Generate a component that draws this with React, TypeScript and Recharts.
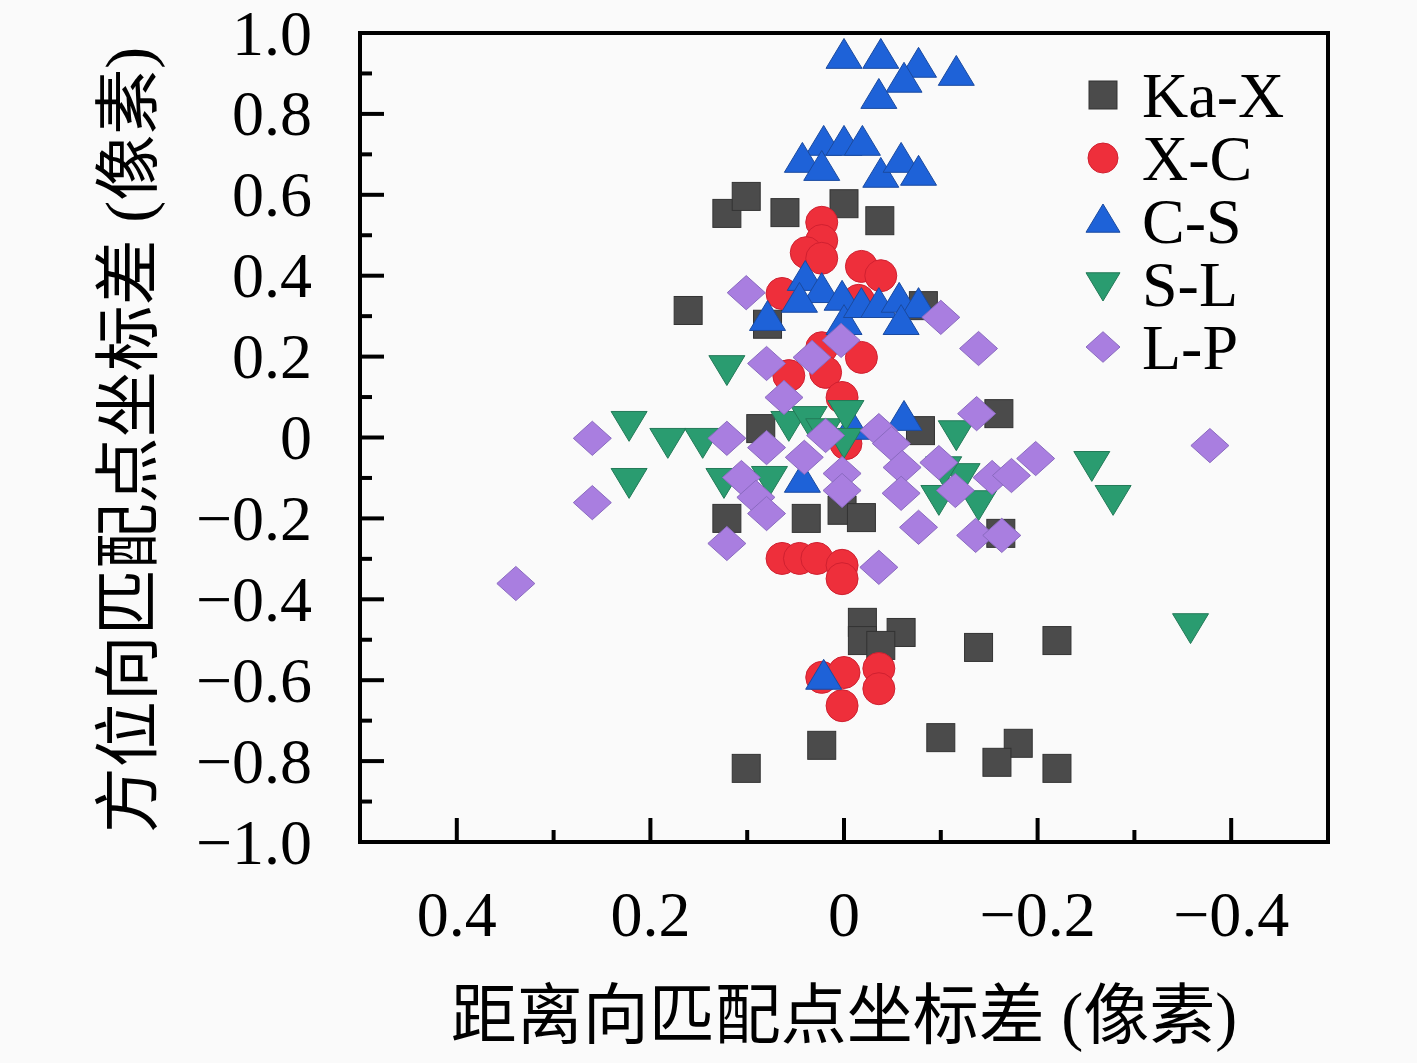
import React from 'react';
import {
  Legend,
  ReferenceArea,
  Scatter,
  ScatterChart,
  XAxis,
  YAxis,
} from 'recharts';

// [range diff, azimuth diff] in pixels
const kaX = [
  [0.121, 0.554], [0.101, 0.596], [0.061, 0.556], [0.0, 0.578], [-0.037, 0.536],
  [0.161, 0.314], [0.079, 0.28], [-0.082, 0.326],
  [0.086, 0.022], [-0.079, 0.017], [-0.16, 0.059],
  [0.121, -0.2], [0.039, -0.2], [0.002, -0.18], [-0.018, -0.198], [-0.162, -0.237],
  [-0.019, -0.457], [-0.019, -0.502], [-0.059, -0.482], [-0.038, -0.514],
  [-0.139, -0.519], [-0.22, -0.502],
  [0.023, -0.761], [0.101, -0.818], [-0.1, -0.742], [-0.18, -0.756],
  [-0.158, -0.803], [-0.22, -0.818],
];

const xC = [
  [0.023, 0.532], [0.023, 0.487], [0.039, 0.457], [0.023, 0.443], [-0.018, 0.423],
  [-0.038, 0.4], [0.064, 0.356], [-0.015, 0.339], [-0.018, 0.198], [0.023, 0.222],
  [0.019, 0.161], [0.057, 0.153], [0.002, 0.099], [-0.002, -0.015],
  [0.064, -0.299], [0.046, -0.299], [0.028, -0.299], [0.002, -0.316], [0.002, -0.349],
  [0.023, -0.593], [0.0, -0.581], [0.002, -0.663], [-0.036, -0.571], [-0.036, -0.621],
];

const cS = [
  [0.0, 0.942], [-0.038, 0.942], [-0.077, 0.92], [-0.062, 0.883], [-0.116, 0.9], [-0.036, 0.843],
  [0.021, 0.727], [0.0, 0.727], [-0.019, 0.727], [0.043, 0.685], [0.023, 0.665],
  [-0.038, 0.648], [-0.059, 0.685], [-0.077, 0.653],
  [0.079, 0.294], [0.04, 0.393], [0.023, 0.363], [0.046, 0.339], [0.002, 0.344],
  [0.0, 0.284], [-0.018, 0.326], [-0.036, 0.326], [-0.057, 0.339], [-0.077, 0.326],
  [-0.059, 0.284],
  [-0.062, 0.047], [-0.008, 0.025], [0.043, -0.106],
  [0.021, -0.593],
];

const sL = [
  [0.222, 0.035], [0.182, -0.007], [0.146, -0.007], [0.121, 0.173], [0.222, -0.106],
  [0.124, -0.106], [0.077, -0.101], [0.057, 0.035], [0.036, 0.047], [0.021, 0.017],
  [-0.002, 0.062], [0.0, -0.007], [-0.116, 0.012], [-0.098, -0.148], [-0.122, -0.094],
  [-0.103, -0.077], [-0.139, -0.161], [-0.256, -0.064], [-0.278, -0.148], [-0.358, -0.465],
];

const lP = [
  [0.26, -0.002], [0.26, -0.161], [0.339, -0.361], [0.101, 0.358], [-0.1, 0.297],
  [-0.139, 0.22], [0.08, 0.183], [0.033, 0.198], [0.003, 0.24], [0.062, 0.099],
  [-0.137, 0.059], [0.121, -0.002], [0.08, -0.025], [0.106, -0.099], [0.091, -0.148],
  [0.08, -0.188], [0.121, -0.262], [0.041, -0.049], [0.019, 0.005], [0.002, -0.089],
  [0.002, -0.131], [-0.036, -0.321], [-0.036, 0.017], [-0.049, -0.015], [-0.06, -0.074],
  [-0.059, -0.138], [-0.077, -0.222], [-0.115, -0.131], [-0.153, -0.099], [-0.173, -0.094],
  [-0.198, -0.052], [-0.136, -0.242], [-0.163, -0.242], [-0.378, -0.02], [-0.098, -0.062],
];

const xTicks = [0.5, 0.4, 0.3, 0.2, 0.1, 0, -0.1, -0.2, -0.3, -0.4, -0.5];
const yTicks = [
  -1, -0.9, -0.8, -0.7, -0.6, -0.5, -0.4, -0.3, -0.2, -0.1, 0,
  0.1, 0.2, 0.3, 0.4, 0.5, 0.6, 0.7, 0.8, 0.9, 1,
];
const xLabels = [0.4, 0.2, 0, -0.2, -0.4];

const SERIF = "'Liberation Serif', 'Noto Sans CJK SC', serif";

const fmt = (v: number) =>
  v === 0 ? '0' : (v < 0 ? '\u2212' : '') + Math.abs(v).toFixed(1);

const toPts = (arr: number[][]) => arr.map(([x, y]) => ({ x, y }));

const Square = ({ cx, cy, s = 14 }: any) => (
  <rect x={cx - s} y={cy - s} width={2 * s} height={2 * s} fill="#4b4b4b" stroke="#333" strokeWidth={1} />
);
const Dot = ({ cx, cy, s = 16 }: any) => (
  <circle cx={cx} cy={cy} r={s} fill="#ee2f3b" stroke="#d02030" strokeWidth={1} />
);
const TriUp = ({ cx, cy, s = 18 }: any) => (
  <polygon
    points={`${cx},${cy - s} ${cx - s},${cy + s * 0.66} ${cx + s},${cy + s * 0.66}`}
    fill="#1e62d8"
    stroke="#1a4aa0"
    strokeWidth={1}
  />
);
const TriDown = ({ cx, cy, s = 18 }: any) => (
  <polygon
    points={`${cx},${cy + s} ${cx - s},${cy - s * 0.66} ${cx + s},${cy - s * 0.66}`}
    fill="#2a9c70"
    stroke="#237a58"
    strokeWidth={1}
  />
);
const Diamond = ({ cx, cy, s = 19 }: any) => (
  <polygon
    points={`${cx},${cy - s * 0.9} ${cx + s},${cy} ${cx},${cy + s * 0.9} ${cx - s},${cy}`}
    fill="#a97ee0"
    stroke="#8a6ac0"
    strokeWidth={1}
  />
);

const series = [
  { name: 'Ka-X', data: kaX, Shape: Square },
  { name: 'X-C', data: xC, Shape: Dot },
  { name: 'C-S', data: cS, Shape: TriUp },
  { name: 'S-L', data: sL, Shape: TriDown },
  { name: 'L-P', data: lP, Shape: Diamond },
];

const XTick = ({ x, y, payload }: any) => {
  const v = payload.value;
  const major = xLabels.includes(v);
  if (Math.abs(v) === 0.5) return null;
  return (
    <g>
      <line x1={x} x2={x} y1={y} y2={y - (major ? 24 : 12)} stroke="#000" strokeWidth={4} />
      {major && (
        <text x={x} y={y + 72} textAnchor="middle" dominantBaseline="central" fontFamily={SERIF} fontSize={64} fill="#000">
          {fmt(v)}
        </text>
      )}
    </g>
  );
};

const YTick = ({ x, y, payload }: any) => {
  const v = payload.value;
  const major = Math.round(v * 10) % 2 === 0;
  return (
    <g>
      <line x1={x} x2={x + (major ? 24 : 12)} y1={y} y2={y} stroke="#000" strokeWidth={4} />
      {major && (
        <text x={x - 48} y={y} textAnchor="end" dominantBaseline="central" fontFamily={SERIF} fontSize={64} fill="#000">
          {fmt(v)}
        </text>
      )}
    </g>
  );
};

const LegendBox = () => (
  <svg width={320} height={360} style={{ overflow: 'visible' }}>
    {series.map(({ name, Shape }, i) => (
      <g key={name}>
        <Shape cx={33} cy={32 + i * 63} s={name === 'X-C' ? 15 : name === 'Ka-X' ? 14 : 17} />
        <text x={72} y={32 + i * 63} dominantBaseline="central" fontFamily={SERIF} fontSize={64} fill="#000">
          {name}
        </text>
      </g>
    ))}
  </svg>
);

export default function App() {
  return (
    <div style={{ position: 'absolute', left: 0, top: 0, width: 1417, height: 1063, background: '#fafafa' }}>
      <ScatterChart width={1417} height={1063} margin={{ top: 33, right: 89, bottom: 161, left: 300 }}>
        <XAxis
          type="number"
          dataKey="x"
          domain={[-0.5, 0.5]}
          reversed
          ticks={xTicks}
          interval={0}
          axisLine={false}
          tickLine={false}
          tickSize={0}
          tickMargin={0}
          height={60}
          tick={<XTick />}
          label={{
            position: 'bottom',
            content: () => (
              <text x={844} y={1015} textAnchor="middle" dominantBaseline="central" fontFamily={SERIF} fontSize={66} fill="#000">
                距离向匹配点坐标差 (像素)
              </text>
            ),
          }}
        />
        <YAxis
          type="number"
          dataKey="y"
          domain={[-1, 1]}
          ticks={yTicks}
          interval={0}
          axisLine={false}
          tickLine={false}
          tickSize={0}
          tickMargin={0}
          width={60}
          tick={<YTick />}
          label={{
            position: 'left',
            content: () => (
              <text
                x={128}
                y={440}
                transform="rotate(-90 128 440)"
                textAnchor="middle"
                dominantBaseline="central"
                fontFamily={SERIF}
                fontSize={66}
                fill="#000"
              >
                方位向匹配点坐标差 (像素)
              </text>
            ),
          }}
        />
        {series.map(({ name, data, Shape }) => (
          <Scatter
            key={name}
            name={name}
            data={toPts(data)}
            isAnimationActive={false}
            shape={(p: any) => <Shape cx={p.cx} cy={p.cy} />}
          />
        ))}
        <ReferenceArea
          x1={-0.5}
          x2={0.5}
          y1={-1}
          y2={1}
          fill="none"
          stroke="#000"
          strokeWidth={4}
          ifOverflow="visible"
        />
        <Legend
          layout="vertical"
          align="center"
          verticalAlign="middle"
          wrapperStyle={{ top: 63, left: 1070, width: 320, height: 360 }}
          content={() => <LegendBox />}
        />
      </ScatterChart>
    </div>
  );
}
